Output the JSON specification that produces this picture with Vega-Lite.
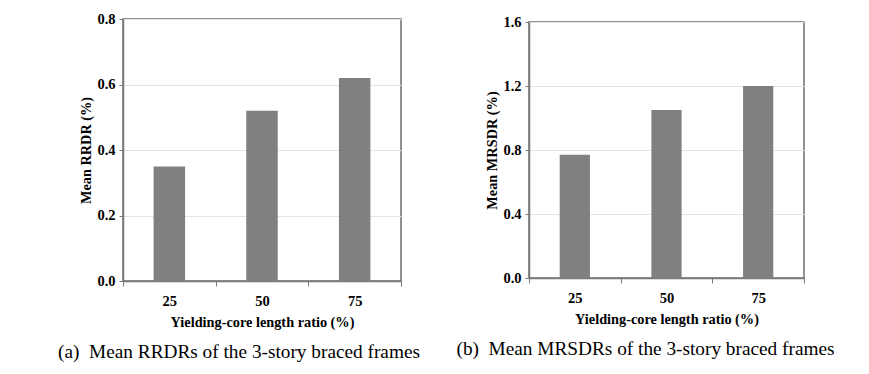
{
  "$schema": "https://vega.github.io/schema/vega-lite/v6.json",
  "background": "white",
  "padding": {"left": 57, "top": 10, "right": 5, "bottom": 5},
  "bounds": "flush",
  "spacing": 128,
  "center": true,
  "config": {
    "font": "Liberation Serif",
    "view": {"stroke": "#6e6e6e", "strokeWidth": 1.5},
    "axis": {
      "labelFont": "Liberation Serif",
      "labelFontSize": 14.5,
      "labelFontWeight": "bold",
      "labelColor": "black",
      "titleFont": "Liberation Serif",
      "titleFontSize": 14.3,
      "titleFontWeight": "bold",
      "titleColor": "black",
      "domainColor": "#7a7a7a",
      "domainWidth": 1.5,
      "tickColor": "#7a7a7a",
      "tickWidth": 1
    }
  },
  "hconcat": [
    {
      "width": 278,
      "height": 262,
      "title": {"text": "(a)\u00a0 Mean RRDRs of the 3-story braced frames", "orient": "bottom", "font": "Liberation Serif", "fontSize": 19.3, "fontWeight": "normal", "color": "black", "offset": 13, "dx": -23},
      "data": {"values": [
        {"ratio": "25", "value": 0.35},
        {"ratio": "50", "value": 0.52},
        {"ratio": "75", "value": 0.62}
      ]},
      "mark": {"type": "bar", "color": "#808080", "width": {"band": 0.34}},
      "encoding": {
        "x": {"field": "ratio", "type": "ordinal", "sort": null,
          "scale": {"paddingInner": 0, "paddingOuter": 0},
          "axis": {"title": "Yielding-core length ratio (%)", "labelAngle": 0, "tickBand": "extent", "tickSize": 5, "labelPadding": 8, "titlePadding": 8}},
        "y": {"field": "value", "type": "quantitative",
          "scale": {"domain": [0, 0.8], "nice": false},
          "axis": {"title": "Mean RRDR (%)", "values": [0, 0.2, 0.4, 0.6, 0.8], "format": ".1f", "grid": true, "gridColor": "#e4e4e4", "tickSize": 4, "labelPadding": 4, "titlePadding": 3}}
      }
    },
    {
      "width": 275,
      "height": 256,
      "title": {"text": "(b)\u00a0 Mean MRSDRs of the 3-story braced frames", "orient": "bottom", "font": "Liberation Serif", "fontSize": 19.3, "fontWeight": "normal", "color": "black", "offset": 13, "dx": -21},
      "data": {"values": [
        {"ratio": "25", "value": 0.77},
        {"ratio": "50", "value": 1.05},
        {"ratio": "75", "value": 1.2}
      ]},
      "mark": {"type": "bar", "color": "#808080", "width": {"band": 0.33}},
      "encoding": {
        "x": {"field": "ratio", "type": "ordinal", "sort": null,
          "scale": {"paddingInner": 0, "paddingOuter": 0},
          "axis": {"title": "Yielding-core length ratio (%)", "labelAngle": 0, "tickBand": "extent", "tickSize": 5, "labelPadding": 8, "titlePadding": 8}},
        "y": {"field": "value", "type": "quantitative",
          "scale": {"domain": [0, 1.6], "nice": false},
          "axis": {"title": "Mean MRSDR (%)", "values": [0, 0.4, 0.8, 1.2, 1.6], "format": ".1f", "grid": true, "gridColor": "#e4e4e4", "tickSize": 4, "labelPadding": 4, "titlePadding": 3}}
      }
    }
  ]
}
